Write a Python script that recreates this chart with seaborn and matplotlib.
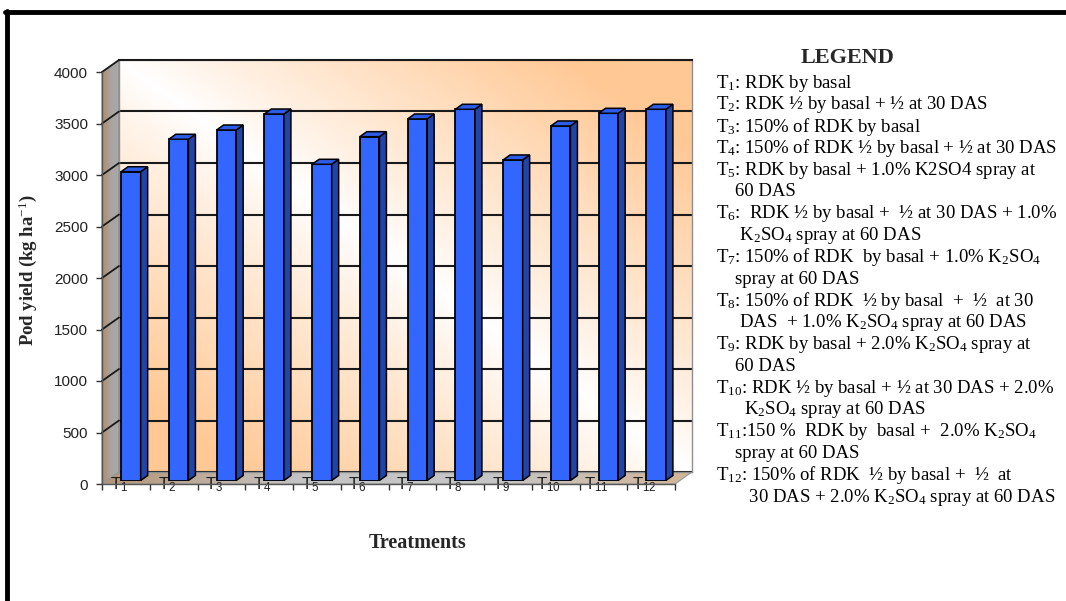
import numpy as np
import matplotlib
matplotlib.use('Agg')
import matplotlib.pyplot as plt
import seaborn as sns
from matplotlib.patches import Polygon
from matplotlib.lines import Line2D
from matplotlib.colors import LinearSegmentedColormap
from matplotlib.transforms import ScaledTranslation

# dados
tratamentos = ['T1', 'T2', 'T3', 'T4', 'T5', 'T6', 'T7', 'T8', 'T9', 'T10', 'T11', 'T12']
rotulos_x = ['T$_\\mathsf{%d}$' % n for n in range(1, 13)]
producao = [2998, 3313, 3403, 3558, 3070, 3338, 3510, 3604, 3112, 3442, 3565, 3604]
ticks_y = [0, 500, 1000, 1500, 2000, 2500, 3000, 3500, 4000]

titulo_legenda = 'LEGEND'
linhas_legenda = [
    'T$_\\mathrm{1}$: RDK by basal',
    'T$_\\mathrm{2}$: RDK \u00bd by basal + \u00bd at 30 DAS',
    'T$_\\mathrm{3}$: 150% of RDK by basal',
    'T$_\\mathrm{4}$: 150% of RDK \u00bd by basal + \u00bd at 30 DAS',
    'T$_\\mathrm{5}$: RDK by basal + 1.0% K2SO4 spray at',
    '    60 DAS',
    'T$_\\mathrm{6}$:  RDK \u00bd by basal +  \u00bd at 30 DAS + 1.0%',
    '     K$_\\mathrm{2}$SO$_\\mathrm{4}$ spray at 60 DAS',
    'T$_\\mathrm{7}$: 150% of RDK  by basal + 1.0% K$_\\mathrm{2}$SO$_\\mathrm{4}$',
    '    spray at 60 DAS',
    'T$_\\mathrm{8}$: 150% of RDK  \u00bd by basal  +  \u00bd  at 30',
    '     DAS  + 1.0% K$_\\mathrm{2}$SO$_\\mathrm{4}$ spray at 60 DAS',
    'T$_\\mathrm{9}$: RDK by basal + 2.0% K$_\\mathrm{2}$SO$_\\mathrm{4}$ spray at',
    '    60 DAS',
    'T$_\\mathrm{10}$: RDK \u00bd by basal + \u00bd at 30 DAS + 2.0%',
    '      K$_\\mathrm{2}$SO$_\\mathrm{4}$ spray at 60 DAS',
    'T$_\\mathrm{11}$:150 %  RDK by  basal +  2.0% K$_\\mathrm{2}$SO$_\\mathrm{4}$',
    '    spray at 60 DAS',
    'T$_\\mathrm{12}$: 150% of RDK  \u00bd by basal +  \u00bd  at',
    '       30 DAS + 2.0% K$_\\mathrm{2}$SO$_\\mathrm{4}$ spray at 60 DAS',
]

# cores
azul_frente = '#3366FF'
azul_lado = '#2244A8'
azul_topo = '#2E5BE8'
laranja = np.array([255, 200, 148]) / 255
branco = np.array([1.0, 1.0, 1.0])

sns.set_theme(style='white')
plt.rcParams['font.family'] = ['Liberation Serif', 'DejaVu Serif']
plt.rcParams['mathtext.fontset'] = 'custom'
plt.rcParams['mathtext.rm'] = 'Liberation Serif'
plt.rcParams['mathtext.it'] = 'Liberation Serif:italic'
plt.rcParams['mathtext.bf'] = 'Liberation Serif:bold'
plt.rcParams['mathtext.sf'] = 'Liberation Sans'

W, H = 1066, 601
fig = plt.figure(figsize=(W / 100, H / 100), dpi=100)
fig.patch.set_facecolor('white')

# geometria do "3D" em pixels
X0, X1 = 102, 675
Y0, Y1 = 484, 72
DX, DY = 17, 12          # profundidade das paredes
BX, BY = 5, 3.5          # plano das barras
PX_CAT = (X1 - X0) / len(tratamentos)
PX_VAL = (Y0 - Y1) / ticks_y[-1]


def rect(dx, dy):
    return [(X0 + dx) / W, (H - Y0 + dy) / H, (X1 - X0) / W, (Y0 - Y1) / H]


# tela de fundo em pixels para parede lateral e piso
ax_tela = fig.add_axes([0, 0, 1, 1], zorder=0)
ax_tela.set_xlim(0, W)
ax_tela.set_ylim(0, H)
ax_tela.axis('off')

yb, yt = H - Y0, H - Y1


def preenche_gradiente(pontos, cores, borda):
    poly = Polygon(pontos, closed=True, facecolor='none', edgecolor=borda, lw=0.8, zorder=2)
    ax_tela.add_patch(poly)
    xs = [p[0] for p in pontos]
    ys = [p[1] for p in pontos]
    cmap = LinearSegmentedColormap.from_list('g', cores)
    grad = np.linspace(0, 1, 256).reshape(1, -1)
    im = ax_tela.imshow(grad, cmap=cmap, extent=(min(xs), max(xs), min(ys), max(ys)),
                        aspect='auto', origin='lower', zorder=1)
    im.set_clip_path(poly)


parede = [(X0, yb), (X0, yt), (X0 + DX, yt + DY), (X0 + DX, yb + DY)]
preenche_gradiente(parede, ['#B38A66', '#A8A4A0', '#A9A9A9'], '#8a8a8a')
piso = [(X0, yb), (X1, yb), (X1 + DX, yb + DY), (X0 + DX, yb + DY)]
preenche_gradiente(piso, ['#B59474', '#C4C4C4', '#C6C6C6', '#D2B598'], '#9a9a9a')

# parede do fundo com gradiente
ax_fundo = fig.add_axes(rect(DX, DY), zorder=1)
u, v = np.meshgrid(np.linspace(0, 1, 300), np.linspace(0, 1, 300))
t = np.clip(np.abs(u + v - 1) * 1.25, 0, 1) ** 0.9
img = branco * (1 - t[..., None]) + laranja * t[..., None]
ax_fundo.imshow(img, extent=(-0.5, len(tratamentos) - 0.5, 0, ticks_y[-1]),
                aspect='auto', origin='lower', zorder=-1)
ax_fundo.set_xlim(-0.5, len(tratamentos) - 0.5)
ax_fundo.set_ylim(0, ticks_y[-1])
ax_fundo.set_yticks(ticks_y)
ax_fundo.set_xticks([])
ax_fundo.tick_params(axis='y', length=0, labelleft=False)
ax_fundo.yaxis.grid(True, color='#1a1a1a', lw=1.5)
for lado in ['left', 'right', 'bottom']:
    ax_fundo.spines[lado].set_color('#8f8f8f')
    ax_fundo.spines[lado].set_linewidth(1.0)
ax_fundo.spines['top'].set_color('#1a1a1a')
ax_fundo.spines['top'].set_linewidth(1.5)

# eixos da frente (escala e rotulos)
ax = fig.add_axes(rect(0, 0), zorder=2)
ax.set_facecolor('none')
ax.set_xlim(-0.5, len(tratamentos) - 0.5)
ax.set_ylim(0, ticks_y[-1])
ax.set_yticks(ticks_y)
ax.set_yticklabels([str(v) for v in ticks_y], family=['Liberation Sans', 'DejaVu Sans'],
                   fontsize=11, color='#222222')
ax.set_xticks(range(len(tratamentos)))
ax.set_xticklabels(rotulos_x, family=['Liberation Sans', 'DejaVu Sans'], fontsize=12,
                   color='#1e1e1e')
ax.set_xticks(np.arange(-0.5, len(tratamentos)), minor=True)
ax.tick_params(axis='x', which='major', length=0, pad=-6)
ax.tick_params(axis='x', which='minor', length=4, width=1, color='#333333', direction='out', bottom=True)
ax.tick_params(axis='y', length=4, width=1, color='#333333', direction='out', left=True, pad=6)
desloca = ScaledTranslation(-7 / 100, 0, fig.dpi_scale_trans)
for rot in ax.get_xticklabels():
    rot.set_transform(rot.get_transform() + desloca)
for lado in ['top', 'right']:
    ax.spines[lado].set_visible(False)
for lado in ['left', 'bottom']:
    ax.spines[lado].set_color('#555555')
    ax.spines[lado].set_linewidth(1.0)

# linhas diagonais da parede lateral
dxw, dyw = DX / PX_CAT, DY / PX_VAL
for v in ticks_y[1:]:
    ax.plot([-0.5, -0.5 + dxw], [v, v + dyw], color='#1a1a1a', lw=1.3, clip_on=False)

ax.set_ylabel('Pod yield (kg ha$^{\\mathrm{-1}}$)', fontsize=13.5, fontweight='bold',
              family='Liberation Serif')
ax.yaxis.set_label_coords(-(X0 - 28) / (X1 - X0), 0.52)
ax.set_xlabel('Treatments', fontsize=14.5, fontweight='bold', family='Liberation Serif')
ax.xaxis.set_label_coords((418 - X0) / (X1 - X0), -(543 - Y0) / (Y0 - Y1))
ax.xaxis.label.set_va('center')
ax.yaxis.label.set_va('center')

# barras no plano do meio
ax_bar = fig.add_axes(rect(BX, BY), zorder=3)
ax_bar.set_facecolor('none')
sns.barplot(x=tratamentos, y=producao, ax=ax_bar, color=azul_frente, saturation=1,
            width=0.41, edgecolor='black', linewidth=1.3)
ax_bar.set_xlim(-0.5, len(tratamentos) - 0.5)
ax_bar.set_ylim(0, ticks_y[-1])
ax_bar.axis('off')

pdx, pdy = 7 / PX_CAT, 5 / PX_VAL
for barra in list(ax_bar.patches):
    x = barra.get_x()
    w = barra.get_width()
    h = barra.get_height()
    lado = Polygon([(x + w, 0), (x + w, h), (x + w + pdx, h + pdy), (x + w + pdx, pdy)],
                   closed=True, facecolor=azul_lado, edgecolor='black', lw=1.1, clip_on=False)
    topo = Polygon([(x, h), (x + w, h), (x + w + pdx, h + pdy), (x + pdx, h + pdy)],
                   closed=True, facecolor=azul_topo, edgecolor='black', lw=1.1, clip_on=False)
    ax_bar.add_patch(lado)
    ax_bar.add_patch(topo)

# legenda em texto
fig.text(848 / W, 1 - 58 / H, titulo_legenda, ha='center', va='center', fontsize=16,
         fontweight='bold', family='Liberation Serif')
passo = 21.8
for i, linha in enumerate(linhas_legenda):
    fig.text(716 / W, 1 - (83 + i * passo) / H, linha, ha='left', va='center', fontsize=13.5,
             family='Liberation Serif', color='black')

# moldura preta
fig.add_artist(Line2D([5 / W, 1], [1 - 12 / H, 1 - 12 / H], color='black', lw=3.5))
fig.add_artist(Line2D([6.5 / W, 6.5 / W], [0, 1 - 11 / H], color='black', lw=3.5))

fig.savefig('out.png', dpi=100)
